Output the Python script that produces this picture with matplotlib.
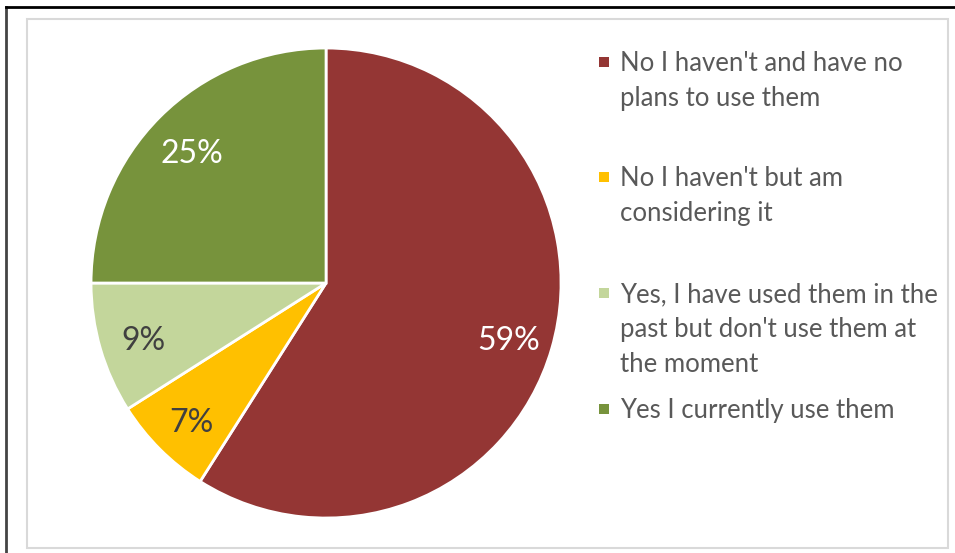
import matplotlib.pyplot as plt
from matplotlib.patches import Rectangle

# survey answers, share of respondents in %
answers = ["No I haven't and have no\nplans to use them",
           "No I haven't but am\nconsidering it",
           "Yes, I have used them in the\npast but don't use them at\nthe moment",
           "Yes I currently use them"]
shares = [59, 7, 9, 25]
colours = ['#943634', '#FFC000', '#C3D69B', '#77933C']
pct_colours = ['white', '#404040', '#404040', 'white']

plt.rcParams['font.family'] = ['Lato', 'DejaVu Sans']

fig = plt.figure(figsize=(9.55, 5.53), dpi=100)

# outer frame (left + top) and light grey chart area border
fig.add_artist(plt.Line2D([0.0068, 0.0068], [0, 0.987], color='#444444', lw=2))
fig.add_artist(plt.Line2D([0.0068, 1.0], [0.987, 0.987], color='black', lw=2))
fig.add_artist(Rectangle((27 / 955, 1 - 548 / 553), 921 / 955, 529 / 553,
                         fill=False, edgecolor='#D9D9D9', lw=1.5))

ax = fig.add_axes([0.3414 - 0.24607, 0.4882 - 0.42495, 0.49215, 0.8499])
wedges, texts, autotexts = ax.pie(shares, colors=colours, startangle=90,
                                  counterclock=False, radius=1,
                                  autopct=lambda p: f'{p:.0f}%', pctdistance=0.81,
                                  wedgeprops=dict(edgecolor='white', linewidth=2),
                                  textprops=dict(fontsize=23))
for t, c in zip(autotexts, pct_colours):
    t.set_color(c)
    # nudge labels slightly down
    t.set_y(t.get_position()[1] - 0.022)
ax.set_xlim(-1, 1)
ax.set_ylim(-1, 1)

# legend, evenly spaced entries
tops = [61, 176, 292, 408]
for label, col, y in zip(answers, colours, tops):
    fig.add_artist(Rectangle((599 / 955, 1 - (y + 6) / 553), 10 / 955, 10 / 553,
                             facecolor=col, edgecolor='none'))
    fig.text(620 / 955, 1 - (y - 10) / 553, label, va='top', ha='left',
             fontsize=18.5, color='#595959', linespacing=1.5)

fig.savefig('out.png', dpi=100)
